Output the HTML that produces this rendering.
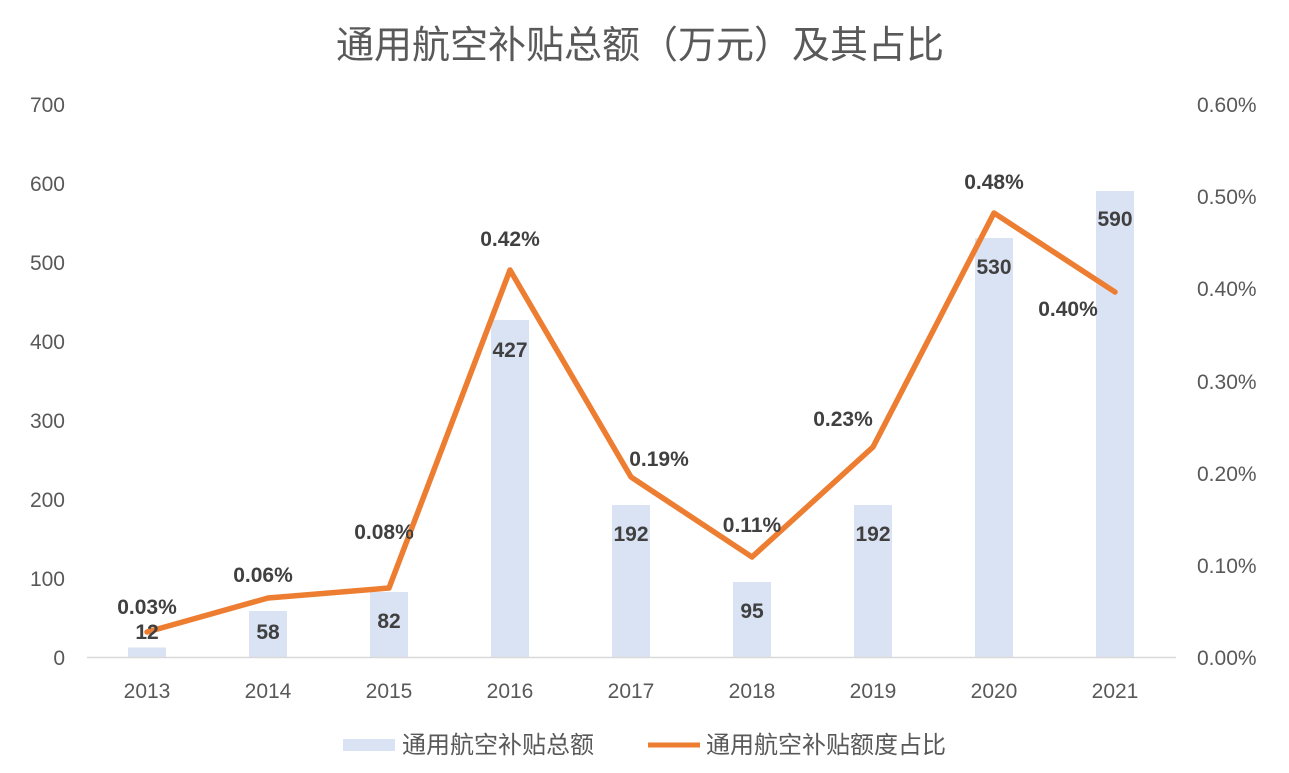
<!DOCTYPE html>
<html><head><meta charset="utf-8"><style>
body{margin:0;background:#fff;}
svg text{font-family:"Liberation Sans","Noto Sans CJK SC",sans-serif;}
</style></head><body>
<svg width="1289" height="768" viewBox="0 0 1289 768" xmlns="http://www.w3.org/2000/svg">
<text x="640" y="58" text-anchor="middle" font-size="38" fill="#595959">通用航空补贴总额（万元）及其占比</text>
<g font-size="21" fill="#595959" text-anchor="end">
<text x="65" y="665">0</text><text x="65" y="586">100</text><text x="65" y="507">200</text><text x="65" y="428">300</text><text x="65" y="349">400</text><text x="65" y="270">500</text><text x="65" y="191">600</text><text x="65" y="112">700</text>
</g>
<g font-size="21" fill="#595959" text-anchor="start">
<text x="1197" y="665">0.00%</text><text x="1197" y="573">0.10%</text><text x="1197" y="481">0.20%</text><text x="1197" y="389">0.30%</text><text x="1197" y="296">0.40%</text><text x="1197" y="204">0.50%</text><text x="1197" y="112">0.60%</text>
</g>
<g fill="#dae3f3">
<rect x="128" y="647.5" width="38" height="9.5"/>
<rect x="249" y="611" width="38" height="46"/>
<rect x="370" y="592" width="38" height="65"/>
<rect x="491" y="320" width="38" height="337"/>
<rect x="612" y="505" width="38" height="152"/>
<rect x="733" y="582" width="38" height="75"/>
<rect x="854" y="505" width="38" height="152"/>
<rect x="975" y="238" width="38" height="419"/>
<rect x="1096" y="191" width="38" height="466"/>
</g>
<line x1="87" y1="657.5" x2="1176" y2="657.5" stroke="#d9d9d9" stroke-width="1.5"/>
<g font-size="21" fill="#595959" text-anchor="middle">
<text x="147" y="698">2013</text><text x="268" y="698">2014</text><text x="389" y="698">2015</text><text x="510" y="698">2016</text><text x="631" y="698">2017</text><text x="752" y="698">2018</text><text x="873" y="698">2019</text><text x="994" y="698">2020</text><text x="1115" y="698">2021</text>
</g>
<polyline points="147,632 268,598 389,588 510,270 631,477 752,557 873,447 994,213 1115,292" fill="none" stroke="#ed7d31" stroke-width="5.5" stroke-linejoin="round" stroke-linecap="round"/>
<g font-size="21" font-weight="bold" fill="#404040" text-anchor="middle">
<text x="147" y="639">12</text><text x="268" y="639">58</text><text x="389" y="628">82</text><text x="510" y="357">427</text><text x="631" y="541">192</text><text x="752" y="618">95</text><text x="873" y="541">192</text><text x="994" y="274">530</text><text x="1115" y="226">590</text>
<text x="147" y="614">0.03%</text><text x="263" y="582">0.06%</text><text x="384" y="539">0.08%</text><text x="510" y="246">0.42%</text><text x="659" y="466">0.19%</text><text x="752" y="532">0.11%</text><text x="843" y="426">0.23%</text><text x="994" y="189">0.48%</text><text x="1068" y="316">0.40%</text>
</g>
<rect x="343" y="739" width="52" height="12" fill="#dae3f3"/>
<text x="402" y="753" font-size="24" fill="#595959">通用航空补贴总额</text>
<line x1="648" y1="745" x2="700" y2="745" stroke="#ed7d31" stroke-width="5"/>
<text x="706" y="753" font-size="24" fill="#595959">通用航空补贴额度占比</text>
</svg>
</body></html>
